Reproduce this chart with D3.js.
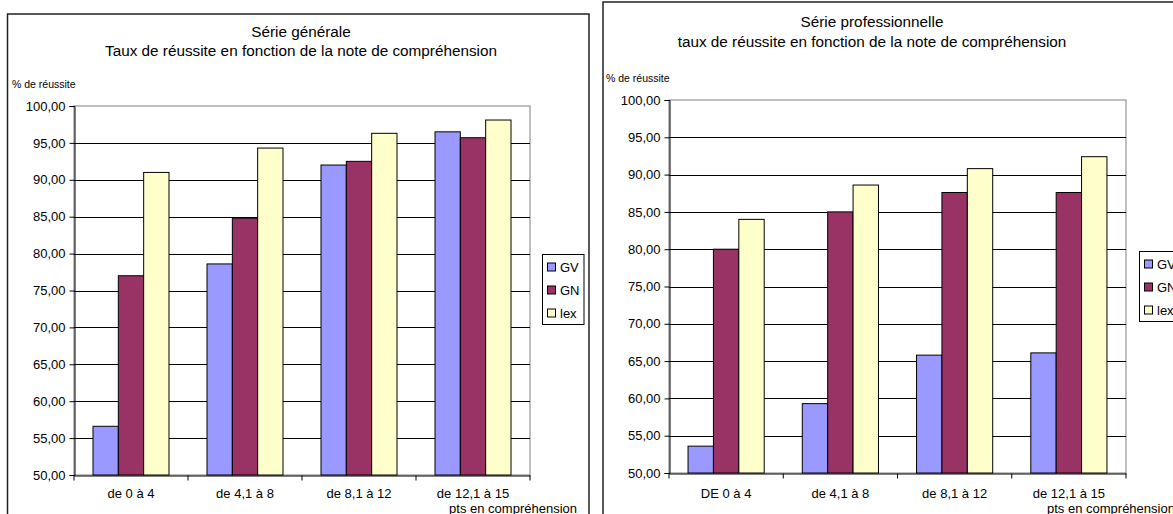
<!DOCTYPE html>
<html>
<head>
<meta charset="utf-8">
<script src="https://cdn.jsdelivr.net/npm/d3@7"></script>
<style>
  html, body { margin: 0; padding: 0; background: #fff; }
  svg { display: block; }
  text { font-family: "Liberation Sans", Arial, sans-serif; fill: #000; }
</style>
</head>
<body>
<svg id="chart" width="1173" height="514"></svg>
<script>
// ---- Data ----
const series = ["GV", "GN", "lex"];
const seriesColors = ["#9999FF", "#993366", "#FFFFCC"];
const yTicks = [50, 55, 60, 65, 70, 75, 80, 85, 90, 95, 100];

const categoriesGen = ["de 0 à 4", "de 4,1 à 8", "de 8,1 à 12", "de 12,1 à 15"];
const gvGen  = [56.6, 78.6, 92.0, 96.5];
const gnGen  = [77.0, 84.8, 92.5, 95.7];
const lexGen = [91.0, 94.3, 96.3, 98.1];

const categoriesPro = ["DE 0 à 4", "de 4,1 à 8", "de 8,1 à 12", "de 12,1 à 15"];
const gvPro  = [53.6, 59.3, 65.8, 66.1];
const gnPro  = [80.0, 85.0, 87.6, 87.6];
const lexPro = [84.0, 88.6, 90.8, 92.4];

const titleGen = ["Série générale", "Taux de réussite en fonction de la note de compréhension"];
const titlePro = ["Série professionnelle", "taux de réussite en fonction de la note de compréhension"];
const yTitle = "% de réussite";
const xTitle = "pts en compréhension";

const svg = d3.select("#chart");
const fmt = v => d3.format(".2f")(v).replace(".", ",");

function drawChart(cfg) {
  const g = svg.append("g");
  // outer frame
  g.append("rect")
    .attr("x", cfg.frame.x).attr("y", cfg.frame.y)
    .attr("width", cfg.frame.w).attr("height", cfg.frame.h)
    .attr("fill", "#fff").attr("stroke", "#222").attr("stroke-width", 1.5);

  const x = d3.scaleBand().domain(cfg.categories).range([cfg.plot.l, cfg.plot.r]).padding(0);
  const xs = d3.scaleBand().domain(series).range([0, x.bandwidth()]).paddingInner(0).paddingOuter(0.75);
  const y = d3.scaleLinear().domain([50, 100]).range([cfg.plot.b, cfg.plot.t]);

  // plot area border (grey)
  g.append("rect")
    .attr("x", cfg.plot.l).attr("y", cfg.plot.t)
    .attr("width", cfg.plot.r - cfg.plot.l).attr("height", cfg.plot.b - cfg.plot.t)
    .attr("fill", "#fff").attr("stroke", "#808080").attr("stroke-width", 1);

  // gridlines
  g.append("g").selectAll("line")
    .data(yTicks.filter(t => t > 50 && t < 100))
    .join("line")
    .attr("x1", cfg.plot.l).attr("x2", cfg.plot.r)
    .attr("y1", d => Math.round(y(d)) + 0.5).attr("y2", d => Math.round(y(d)) + 0.5)
    .attr("stroke", "#000").attr("stroke-width", 1);

  // bars
  const valuesBySeries = cfg.values;
  const bars = g.append("g");
  series.forEach((s, si) => {
    bars.selectAll(null)
      .data(cfg.categories.map((c, ci) => ({ c, v: valuesBySeries[si][ci] })))
      .join("rect")
      .attr("x", d => x(d.c) + xs(s))
      .attr("y", d => y(d.v))
      .attr("width", xs.bandwidth())
      .attr("height", d => y(50) - y(d.v))
      .attr("fill", seriesColors[si])
      .attr("stroke", "#000").attr("stroke-width", 1);
  });

  // y axis
  const yAxis = d3.axisLeft(y).tickValues(yTicks).tickFormat(fmt).tickSize(5).tickPadding(4);
  const ya = g.append("g").attr("transform", `translate(${cfg.plot.l + 0.5},0)`).call(yAxis);
  ya.select(".domain").attr("stroke", "#000");
  ya.selectAll(".tick line").attr("stroke", "#000");
  ya.selectAll("text").attr("font-size", 13).attr("font-family", "Liberation Sans, Arial");

  // x axis
  const xAxis = d3.axisBottom(x).tickSize(0).tickPadding(0);
  const xa = g.append("g").attr("transform", `translate(0,${cfg.plot.b + 0.5})`).call(xAxis);
  xa.select(".domain").attr("stroke", "#000");
  xa.selectAll("text").attr("font-size", 13).attr("font-family", "Liberation Sans, Arial")
    .attr("dy", null).attr("y", cfg.catY - cfg.plot.b);
  // category boundary ticks
  xa.selectAll("line.bt")
    .data(cfg.categories.concat(["__end"]))
    .join("line").attr("class", "bt")
    .attr("x1", (d, i) => i < cfg.categories.length ? x(d) : x.range()[1])
    .attr("x2", (d, i) => i < cfg.categories.length ? x(d) : x.range()[1])
    .attr("y1", 0).attr("y2", 5).attr("stroke", "#000");

  // titles
  g.append("g").selectAll("text").data(cfg.title).join("text")
    .attr("x", cfg.titleX).attr("y", (d, i) => cfg.titleY[i])
    .attr("text-anchor", "middle").attr("font-size", 15.3).text(d => d);

  g.append("text").attr("x", cfg.yTitle.x).attr("y", cfg.yTitle.y)
    .attr("font-size", 10.5).text(yTitle);
  g.append("text").attr("x", cfg.xTitle.x).attr("y", cfg.xTitle.y)
    .attr("text-anchor", cfg.xTitle.anchor).attr("font-size", 13).text(xTitle);

  // legend
  const lg = g.append("g");
  lg.append("rect").attr("x", cfg.legend.x).attr("y", cfg.legend.y)
    .attr("width", cfg.legend.w).attr("height", cfg.legend.h)
    .attr("fill", "#fff").attr("stroke", "#000").attr("stroke-width", 1);
  series.forEach((s, si) => {
    const cy = cfg.legend.y + 12.5 + si * 23;
    lg.append("rect").attr("x", cfg.legend.x + 5).attr("y", cy - 4)
      .attr("width", 8).attr("height", 8)
      .attr("fill", seriesColors[si]).attr("stroke", "#000").attr("stroke-width", 1);
    lg.append("text").attr("x", cfg.legend.x + 17.5).attr("y", cy + 4.5)
      .attr("font-size", 13).text(s);
  });
}

drawChart({
  frame: { x: 7.5, y: 14, w: 581.5, h: 520 },
  plot: { l: 74, r: 530, t: 106, b: 475 },
  categories: categoriesGen,
  values: [gvGen, gnGen, lexGen],
  title: titleGen, titleX: 301, titleY: [37, 56],
  yTitle: { x: 12, y: 88 },
  xTitle: { x: 577, y: 513, anchor: "end" },
  catY: 497,
  legend: { x: 542.5, y: 254.5, w: 41.5, h: 70 }
});

drawChart({
  frame: { x: 603, y: 2, w: 600, h: 540 },
  plot: { l: 669, r: 1126, t: 100, b: 473 },
  categories: categoriesPro,
  values: [gvPro, gnPro, lexPro],
  title: titlePro, titleX: 872, titleY: [27, 47],
  yTitle: { x: 606, y: 82 },
  xTitle: { x: 1047, y: 513, anchor: "start" },
  catY: 497,
  legend: { x: 1139.5, y: 251.5, w: 45, h: 70 }
});
</script>
</body>
</html>
